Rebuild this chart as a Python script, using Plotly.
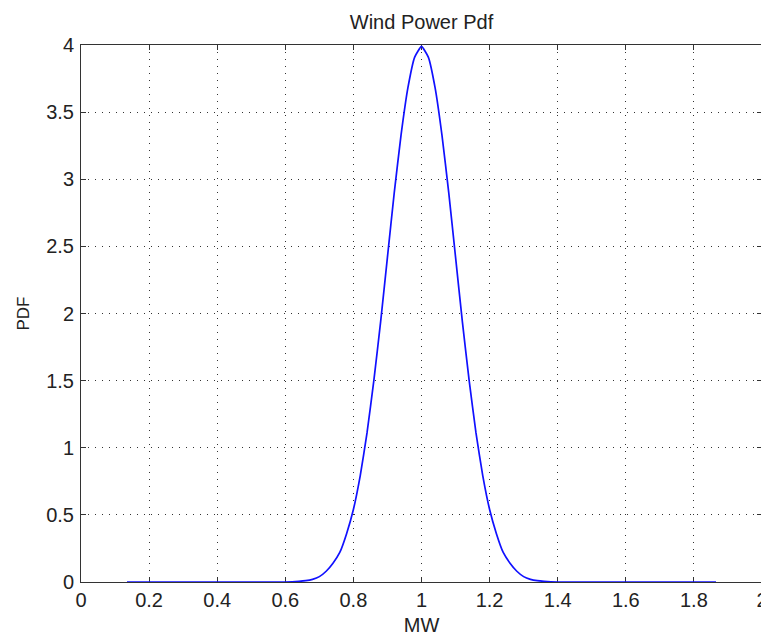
import plotly.graph_objects as go

# Values
mw = [0.135, 0.60, 0.64, 0.66, 0.68, 0.70, 0.72, 0.74, 0.76, 0.78, 0.80, 0.82, 0.84,
      0.86, 0.88, 0.90, 0.92, 0.94, 0.96, 0.98, 1.00, 1.02, 1.04, 1.06,
      1.08, 1.10, 1.12, 1.14, 1.16, 1.18, 1.20, 1.22, 1.24, 1.26, 1.28,
      1.30, 1.32, 1.34, 1.36, 1.40, 1.865]
pdf = [0.0, 0.0, 0.005, 0.01, 0.02, 0.04, 0.08, 0.14, 0.22, 0.36, 0.54, 0.79, 1.11,
       1.50, 1.94, 2.42, 2.90, 3.33, 3.68, 3.91, 3.99, 3.91, 3.68, 3.33,
       2.90, 2.42, 1.94, 1.50, 1.11, 0.79, 0.54, 0.36, 0.22, 0.14, 0.08,
       0.04, 0.02, 0.01, 0.005, 0.0, 0.0]

x_ticks = [0, 0.2, 0.4, 0.6, 0.8, 1, 1.2, 1.4, 1.6, 1.8, 2]
x_labels = ["0", "0.2", "0.4", "0.6", "0.8", "1", "1.2", "1.4", "1.6", "1.8", "2"]
y_ticks = [0, 0.5, 1, 1.5, 2, 2.5, 3, 3.5, 4]
y_labels = ["0", "0.5", "1", "1.5", "2", "2.5", "3", "3.5", "4"]

font_family = "Liberation Sans, Arial"
txt = "#222222"

fig = go.Figure()
fig.add_trace(go.Scatter(x=mw, y=pdf, mode="lines",
                         line=dict(color="#1010ff", width=1.7, shape="spline", smoothing=0.4),
                         cliponaxis=False,
                         showlegend=False, hoverinfo="skip"))

axis_common = dict(
    showline=True, linecolor="#333333", linewidth=1, mirror="ticks",
    ticks="inside", ticklen=5, tickcolor="#333333", tickwidth=1,
    showgrid=True, gridcolor="#333333", gridwidth=1, griddash="1px,6px",
    zeroline=False, layer="below traces",
    tickfont=dict(family=font_family, size=20, color=txt),
)

fig.update_xaxes(range=[0, 2], tickvals=x_ticks, ticktext=x_labels, automargin=True,
                 title=dict(text="MW", font=dict(family=font_family, size=20, color=txt),
                            standoff=7),
                 **axis_common)
fig.update_yaxes(range=[0, 4], tickvals=y_ticks, ticktext=y_labels, automargin=True,
                 ticklabelstandoff=2,
                 title=dict(text="PDF", font=dict(family=font_family, size=17, color=txt),
                            standoff=12),
                 **axis_common)

fig.update_layout(
    width=761, height=634,
    margin=dict(l=73, r=7, t=37, b=60, autoexpand=False),
    paper_bgcolor="white", plot_bgcolor="white",
    title=dict(text="Wind Power Pdf", xref="paper", x=0.5, xanchor="center",
               yref="container", y=1 - 14 / 634, yanchor="middle",
               font=dict(family=font_family, size=20, color=txt)),
)

fig.write_html("out.html")
